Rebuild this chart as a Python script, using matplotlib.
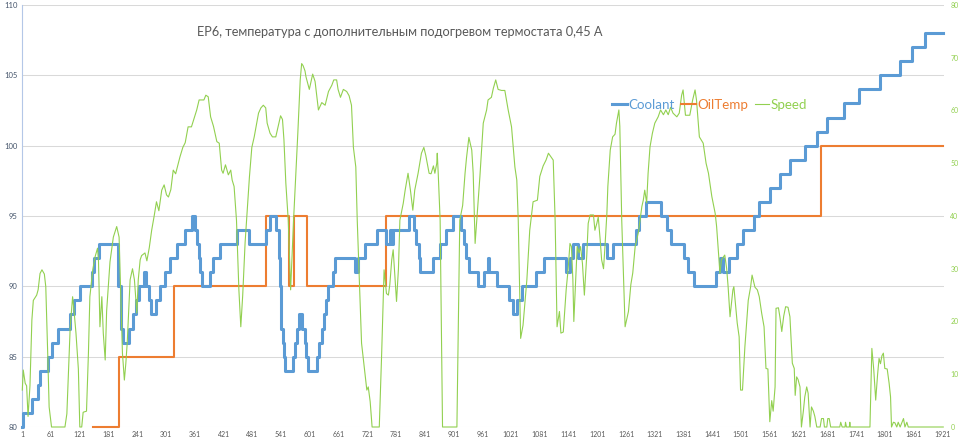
import matplotlib
matplotlib.use("Agg")
import matplotlib.pyplot as plt

plt.rcParams["font.family"] = ["Lato", "DejaVu Sans"]

TITLE = "ЕР6, температура с дополнительным подогревом термостата 0,45 А"

# Coolant: sample index where the reading changes, and the new value (°C)
coolant_x = [1, 3, 22, 33, 38, 55, 64, 75, 100, 109,
             121, 146, 151, 161, 201, 206, 212, 223, 233, 238,
             244, 254, 259, 265, 270, 279, 288, 298, 310, 324,
             340, 355, 361, 366, 369, 371, 376, 392, 400, 413,
             449, 475, 510, 518, 531, 536, 538, 540, 545, 547,
             550, 566, 570, 574, 579, 585, 590, 593, 597, 616,
             621, 626, 631, 635, 640, 650, 654, 696, 701, 716,
             741, 759, 768, 772, 775, 809, 818, 823, 828, 831,
             859, 872, 886, 900, 917, 923, 927, 934, 951, 965,
             972, 976, 992, 1016, 1026, 1033, 1043, 1073, 1089, 1136,
             1145, 1151, 1160, 1171, 1222, 1233, 1282, 1287, 1302, 1334,
             1346, 1355, 1381, 1390, 1402, 1448, 1458, 1464, 1476, 1492,
             1506, 1527, 1538, 1562, 1583, 1604, 1635, 1659, 1680, 1715,
             1747, 1792, 1832, 1857, 1885, 1923]
coolant_v = [80, 81, 82, 83, 84, 85, 86, 87, 88, 89,
             90, 91, 92, 93, 90, 87, 86, 87, 88, 89,
             90, 91, 90, 89, 88, 89, 90, 91, 92, 93,
             94, 95, 94, 93, 92, 91, 90, 91, 92, 93,
             94, 93, 94, 95, 94, 92, 90, 87, 86, 85,
             84, 85, 86, 87, 88, 87, 86, 85, 84, 85,
             86, 87, 88, 89, 90, 91, 92, 91, 92, 93,
             94, 93, 94, 93, 94, 95, 94, 93, 92, 91,
             92, 93, 94, 95, 94, 93, 92, 91, 90, 91,
             92, 91, 90, 89, 88, 89, 90, 91, 92, 91,
             92, 93, 92, 93, 92, 93, 94, 95, 96, 95,
             94, 93, 92, 91, 90, 91, 92, 91, 92, 93,
             94, 95, 96, 97, 98, 99, 100, 101, 102, 103,
             104, 105, 106, 107, 108, 108]

# OilTemp: same idea
oil_x = [148, 202, 318, 510, 557, 569, 595, 759, 1668, 1923]
oil_v = [80, 85, 90, 95, 90, 95, 90, 95, 100, 100]

# Speed (right axis)
speed_x = [1, 3, 7, 10, 13, 17, 21, 24, 31, 34,
           38, 42, 47, 50, 54, 57, 62, 90, 94, 101,
           106, 109, 113, 118, 121, 125, 128, 135, 139, 142,
           148, 153, 158, 160, 163, 167, 170, 174, 177, 184,
           191, 198, 203, 206, 210, 214, 217, 220, 226, 231,
           235, 240, 243, 247, 250, 257, 261, 266, 271, 276,
           281, 286, 292, 297, 302, 306, 311, 316, 321, 330,
           336, 341, 347, 354, 365, 370, 380, 384, 389, 394,
           400, 407, 412, 417, 420, 425, 431, 436, 439, 443,
           448, 453, 457, 461, 466, 469, 475, 480, 485, 489,
           494, 499, 504, 509, 512, 518, 523, 530, 535, 540,
           544, 547, 551, 556, 561, 567, 576, 581, 584, 587,
           591, 593, 600, 607, 612, 619, 626, 633, 640, 647,
           651, 657, 660, 665, 671, 678, 683, 688, 692, 697,
           700, 709, 720, 723, 727, 731, 746, 751, 756, 761,
           765, 768, 772, 775, 779, 782, 786, 789, 793, 796,
           800, 806, 811, 816, 820, 827, 834, 839, 843, 850,
           854, 859, 862, 866, 867, 869, 873, 878, 908, 914,
           920, 925, 928, 933, 939, 942, 946, 950, 956, 963,
           970, 973, 980, 984, 989, 994, 1001, 1008, 1015, 1022,
           1029, 1033, 1036, 1041, 1046, 1054, 1060, 1067, 1076, 1081,
           1088, 1094, 1099, 1106, 1109, 1113, 1117, 1122, 1125, 1130,
           1136, 1140, 1144, 1147, 1150, 1152, 1156, 1159, 1163, 1166,
           1170, 1174, 1179, 1182, 1186, 1193, 1196, 1200, 1203, 1207,
           1210, 1214, 1217, 1221, 1223, 1228, 1233, 1238, 1241, 1246,
           1248, 1252, 1259, 1266, 1271, 1275, 1280, 1287, 1294, 1297,
           1300, 1304, 1307, 1311, 1316, 1321, 1328, 1333, 1339, 1344,
           1349, 1354, 1359, 1367, 1372, 1377, 1380, 1385, 1394, 1400,
           1405, 1408, 1414, 1422, 1428, 1433, 1440, 1447, 1450, 1453,
           1457, 1460, 1467, 1471, 1474, 1478, 1484, 1486, 1493, 1497,
           1500, 1504, 1509, 1516, 1521, 1524, 1530, 1535, 1539, 1544,
           1549, 1553, 1557, 1561, 1565, 1568, 1572, 1574, 1579, 1582,
           1586, 1590, 1594, 1599, 1603, 1608, 1612, 1614, 1617, 1620,
           1624, 1627, 1631, 1634, 1638, 1641, 1645, 1648, 1652, 1655,
           1659, 1666, 1669, 1673, 1675, 1680, 1682, 1685, 1688, 1707,
           1709, 1712, 1718, 1719, 1721, 1727, 1728, 1729, 1770, 1774,
           1778, 1782, 1786, 1789, 1792, 1795, 1798, 1801, 1806, 1810,
           1813, 1815, 1819, 1822, 1826, 1829, 1833, 1840, 1843, 1847,
           1850, 1923]
speed_v = [7, 10.8, 8.3, 7.8, 2, 7.8, 20.3, 24, 25, 26,
           29.1, 29.8, 29, 26.6, 14, 3.8, 0, 0, 2.5, 19,
           24.7, 22, 17.8, 11, 0, 0, 2.8, 3, 14, 24.7,
           29.8, 32.3, 33.9, 31.5, 19, 24.7, 17.8, 12.7, 22, 31.3,
           36, 38, 36, 26.6, 14, 8.9, 12, 16, 27.9, 30,
           27.9, 21.6, 27.9, 31.7, 32.5, 33, 31.5, 34, 37.3, 39.9,
           42.7, 41, 44.9, 45.9, 44, 43.6, 45, 48.7, 48, 51.2,
           53, 53.9, 56.9, 56.9, 60.1, 62, 62, 62.9, 62.6, 58.8,
           57, 54.1, 53.8, 48.7, 48.1, 49.7, 47.8, 48.7, 46.8, 45.6,
           39.2, 26, 19, 25, 35, 39.2, 47.4, 53, 55, 57,
           59.5, 60.5, 61, 60.5, 57.6, 55.7, 55, 55, 57, 59,
           58.3, 54.5, 46.2, 39.2, 26, 39, 55.7, 65.8, 68.9, 68.5,
           67.5, 66.4, 64, 66.9, 65.5, 60.1, 61.5, 61, 63.6, 64.8,
           65.8, 65.8, 64, 62.5, 64, 63.6, 62.8, 61, 53, 49.3,
           39.2, 15.9, 7, 7.6, 4.8, 0, 0, 14, 29.8, 25.3,
           25, 27, 31.7, 33.6, 28, 23.8, 30, 39.2, 41, 42.4,
           44.9, 48.1, 44.9, 41.1, 44.9, 48.1, 51.9, 53, 51.5, 48.1,
           48, 49.5, 48.1, 50, 51.9, 48.1, 39.2, 0, 0, 39.2,
           42, 48.1, 51, 54.9, 52.5, 48.1, 34.8, 40, 47.5, 57.6,
           60.1, 62, 62.5, 64.2, 65.8, 64, 63.8, 63.8, 60.1, 56.9,
           49.3, 46.8, 39.2, 16.8, 19.3, 27.9, 37.3, 42.7, 43, 47.5,
           49.5, 50.6, 51.9, 51, 50.6, 39.2, 19, 21.9, 17.8, 18,
           26, 29.8, 34.8, 34.2, 28, 20, 28, 34.2, 33, 34.2,
           31, 25, 32.5, 38.6, 40.2, 40.2, 37.3, 38.6, 39.8, 35.5,
           31.7, 30, 34.2, 40.5, 45.6, 52.5, 55, 55.5, 57.6, 60.1,
           57, 39.2, 19, 21.9, 27, 29.2, 34.2, 37, 41.8, 43,
           44.9, 42.5, 48.1, 53.1, 55.7, 57.6, 58.8, 60.1, 59.2, 60.1,
           59.2, 60.6, 59.5, 58.8, 59.5, 62.9, 63.9, 59.1, 59.1, 62,
           63.9, 62, 55, 53.8, 50, 48.1, 43.7, 40.5, 38, 34.2,
           29.1, 31.7, 32.6, 30, 26.6, 20.9, 26, 26.6, 19.7, 17.1,
           7, 7, 15.2, 24, 26.6, 28.8, 26.5, 26, 24.7, 21.6,
           19, 11.1, 11, 1, 5, 3, 7.6, 22.5, 22.6, 20.9,
           18.1, 21, 22.8, 22.7, 20.9, 12.1, 11.1, 6, 9.5, 9,
           7.6, 0, 3, 5.7, 7.6, 6.4, 0, 3.8, 3, 2,
           0, 0, 1.6, 1.6, 0, 0, 1.6, 1.6, 0, 0,
           0.9, 0, 0, 0.9, 0, 0, 0.9, 0, 0, 14.9,
           10.8, 5.1, 10, 13, 12, 13.5, 14, 11.1, 11, 8.3,
           5.7, 0, 0.9, 0.8, 0, 0.9, 0, 1.6, 0, 0.9,
           0, 0]

x_ticks = list(range(1, 1922, 60))
left_ticks = [80, 85, 90, 95, 100, 105, 110]
right_ticks = [0, 10, 20, 30, 40, 50, 60, 70, 80]

BLUE = "#5B9BD5"
ORANGE = "#ED7D31"
GREEN = "#92D050"

W, H = 960, 445
fig = plt.figure(figsize=(W / 100, H / 100), dpi=100)
ax = fig.add_axes([22.3 / W, 1 - 427 / H, (943.5 - 22.3) / W, (427 - 5) / H])

l1, = ax.step(coolant_x, coolant_v, where="post", color=BLUE, lw=2.2,
              clip_on=False, zorder=3)
l2, = ax.step(oil_x, oil_v, where="post", color=ORANGE, lw=1.5,
              clip_on=False, zorder=2)

ax.set_xlim(1, 1923.5)
ax.set_ylim(80, 110)
ax.set_xticks(x_ticks)
ax.set_yticks(left_ticks)
ax.yaxis.grid(True, color="#D9D9D9", lw=0.75)
ax.set_axisbelow(True)
for s in ("top", "right", "bottom"):
    ax.spines[s].set_visible(False)
ax.spines["left"].set_color("#B4C7E7")
ax.spines["left"].set_linewidth(0.8)
ax.tick_params(axis="x", length=0, pad=3, labelsize=5, labelcolor="#595959")
ax.tick_params(axis="y", length=0, pad=3.5, labelsize=5.5, labelcolor="#44546A")

ax2 = ax.twinx()
l3, = ax2.plot(speed_x, speed_v, color=GREEN, lw=0.8, clip_on=False)
ax2.set_ylim(0, 80)
ax2.set_yticks(right_ticks)
for s in ax2.spines.values():
    s.set_visible(False)
ax2.tick_params(axis="y", length=0, pad=5, labelsize=5, labelcolor=GREEN)

fig.text(197 / W, 1 - 32 / H, TITLE, fontsize=9.2, color="#595959", va="center")

leg = ax2.legend([l1, l2, l3], ["Coolant", "OilTemp", "Speed"],
                 loc="center left", bbox_to_anchor=(612 / W, 1 - 105 / H),
                 bbox_transform=fig.transFigure, ncol=3, frameon=False,
                 fontsize=9.6, handlelength=1.1, handletextpad=0.1,
                 columnspacing=0.5, borderpad=0, borderaxespad=0)
for t, c in zip(leg.get_texts(), (BLUE, ORANGE, GREEN)):
    t.set_color(c)

fig.savefig("out.png", dpi=100)
